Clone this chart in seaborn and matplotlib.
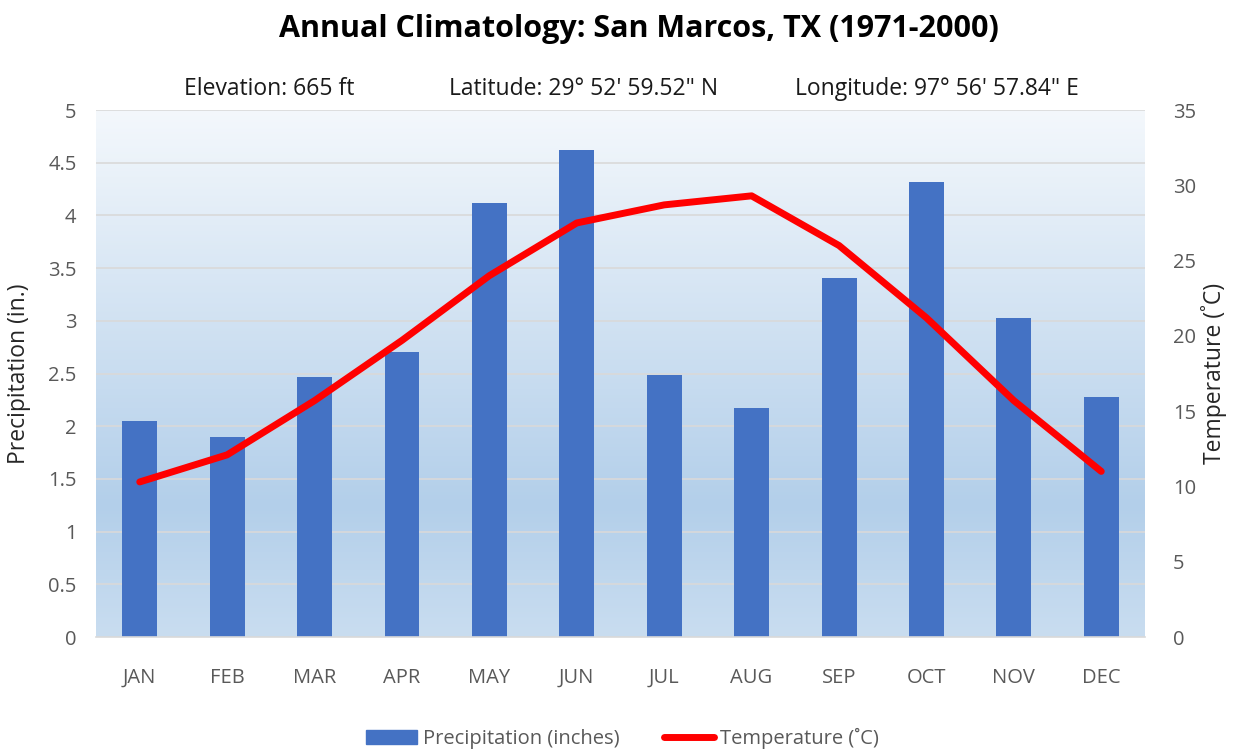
import numpy as np
import pandas as pd
import matplotlib
matplotlib.use("Agg")
import matplotlib.pyplot as plt
import seaborn as sns
from matplotlib.colors import LinearSegmentedColormap
from matplotlib.lines import Line2D
from matplotlib.patches import Patch

months = ["JAN", "FEB", "MAR", "APR", "MAY", "JUN", "JUL", "AUG", "SEP", "OCT", "NOV", "DEC"]
precip = [2.05, 1.90, 2.47, 2.70, 4.12, 4.62, 2.49, 2.17, 3.41, 4.32, 3.03, 2.28]
temp = [10.3, 12.1, 15.7, 19.7, 24.0, 27.5, 28.7, 29.3, 26.0, 21.2, 15.7, 11.0]
precip_ticks = [0, 0.5, 1, 1.5, 2, 2.5, 3, 3.5, 4, 4.5, 5]
temp_ticks = [0, 5, 10, 15, 20, 25, 30, 35]

sns.set_theme(style="white")
fam = ["Open Sans", "DejaVu Sans"]
plt.rcParams["font.family"] = fam

df = pd.DataFrame({"month": months, "precip": precip, "temp": temp})

fig = plt.figure(figsize=(12.33, 7.52), dpi=100)
ax = fig.add_axes([0.0779, 0.1529, 0.8507, 0.7008])

# gradient background
cmap = LinearSegmentedColormap.from_list(
    "bg", [(0.0, "#c9ddf0"), (0.25, "#b3cfea"), (1.0, "#f4f8fc")])
grad = np.linspace(0, 1, 256).reshape(-1, 1)
ax.imshow(grad, extent=[-0.5, 11.5, 0, 5], origin="lower", aspect="auto",
          cmap=cmap, zorder=0)

for t in precip_ticks[1:]:
    ax.axhline(t, color="#d9d9d9", lw=1.2, zorder=1)

sns.barplot(data=df, x="month", y="precip", color="#4472c4", saturation=1,
            width=0.4, ax=ax, zorder=2, linewidth=0, edgecolor="#4472c4")

ax.set_xlim(-0.5, 11.5)
ax.set_ylim(0, 5)
ax.set_yticks(precip_ticks)
ax.set_yticklabels([f"{t:g}" for t in precip_ticks])
ax.tick_params(axis="both", length=0, labelsize=14.5, colors="#595959")
ax.tick_params(axis="x", pad=22)
ax.tick_params(axis="y", pad=14)
ax.set_xlabel("")
ax.set_ylabel("Precipitation (in.)", fontsize=16.5, color="#262626", labelpad=12)
for s in ["top", "right", "left"]:
    ax.spines[s].set_visible(False)
ax.spines["bottom"].set_color("#d9d9d9")
ax.spines["bottom"].set_linewidth(1.2)

ax2 = ax.twinx()
sns.lineplot(x=np.arange(len(months)), y=temp, color="#ff0000", lw=5,
             ax=ax2, zorder=3, solid_capstyle="round")
ax2.set_ylim(0, 35)
ax2.set_yticks(temp_ticks)
ax2.tick_params(axis="y", length=0, labelsize=14.5, colors="#595959", pad=20)
ax2.set_ylabel("Temperature (˚C)", fontsize=16.5, color="#262626", labelpad=4)
for s in ["top", "right", "left", "bottom"]:
    ax2.spines[s].set_visible(False)
ax2.grid(False)

fig.text(0.518, 0.962, "Annual Climatology: San Marcos, TX (1971-2000)",
         ha="center", va="center", fontsize=22, fontweight="bold", color="black")
fig.text(0.218, 0.882, "Elevation: 665 ft", ha="center", va="center", fontsize=16.5, color="#1a1a1a")
fig.text(0.473, 0.882, "Latitude: 29° 52' 59.52\" N", ha="center", va="center", fontsize=16.5, color="#1a1a1a")
fig.text(0.760, 0.882, "Longitude: 97° 56' 57.84\" E", ha="center", va="center", fontsize=16.5, color="#1a1a1a")

handles = [Patch(color="#4472c4"), Line2D([0], [0], color="#ff0000", lw=5)]
fig.legend(handles, ["Precipitation (inches)", "Temperature (˚C)"],
           loc="center", bbox_to_anchor=(0.505, 0.018), ncol=2, frameon=False,
           fontsize=14.5, labelcolor="#595959", handlelength=2.5, handletextpad=0.3,
           columnspacing=2.2)

fig.savefig("out.png", dpi=100)
